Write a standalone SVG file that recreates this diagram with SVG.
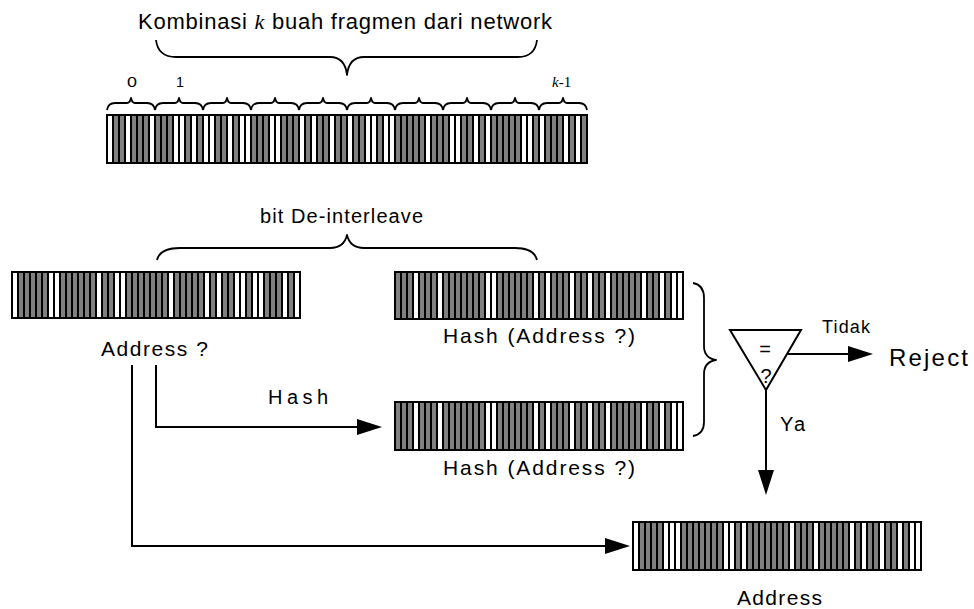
<svg xmlns="http://www.w3.org/2000/svg" xmlns:xlink="http://www.w3.org/1999/xlink" width="974" height="609" viewBox="0 0 974 609">
  <style>
    text { font-family: "Liberation Sans", Arial, sans-serif; fill: #000; }
    .it { font-family: "Liberation Serif", "Times New Roman", serif; font-style: italic; }
    .serif { font-family: "Liberation Serif", "Times New Roman", serif; }
    .bg { fill: #fff; }
    .gray { stroke: #808080; fill: none; }
    .sep { stroke: #000; fill: none; stroke-dasharray: 2 4; stroke-dashoffset: 1; }
    .frame { fill: none; stroke: #000; stroke-width: 2; }
    .brace { fill: none; stroke: #000; stroke-width: 1.8; stroke-linejoin: round; }
    .wire { fill: none; stroke: #000; stroke-width: 2; }
    .arrow { marker-end: url(#head); }
  </style>
  <defs>
    <marker id="head" markerUnits="userSpaceOnUse" markerWidth="25" markerHeight="16" refX="5" refY="8" orient="auto">
      <path d="M0,0 L25,8 L0,16 z" fill="#000"/>
    </marker>
    <!-- small upward brace spanning one 8-bit fragment -->
    <path id="fragBrace" class="brace" d="M0,12 Q1,5 8,5 L20,5 Q23,5 24,0 Q25,5 28,5 L40,5 Q47,5 48,12"/>
  </defs>

  <!-- fragments combined from the network -->
  <g id="fragments">
    <text x="138" y="29" font-size="22" textLength="414" lengthAdjust="spacing">Kombinasi <tspan class="it">k</tspan> buah fragmen dari network</text>
    <path class="brace" d="M156,40 Q158,57 176,57 L330,57 Q345,57 347,75 Q349,57 364,57 L518,57 Q535,57 537,40"/>
    <text x="127" y="87" font-size="14" textLength="10" lengthAdjust="spacingAndGlyphs">0</text>
    <text x="176" y="87" font-size="14" textLength="8" lengthAdjust="spacingAndGlyphs">1</text>
    <text x="552" y="87" font-size="15" class="serif"><tspan class="it">k</tspan>-1</text>
    <g transform="translate(107,98)">
      <use xlink:href="#fragBrace" x="0"/>
      <use xlink:href="#fragBrace" x="48"/>
      <use xlink:href="#fragBrace" x="96"/>
      <use xlink:href="#fragBrace" x="144"/>
      <use xlink:href="#fragBrace" x="192"/>
      <use xlink:href="#fragBrace" x="240"/>
      <use xlink:href="#fragBrace" x="288"/>
      <use xlink:href="#fragBrace" x="336"/>
      <use xlink:href="#fragBrace" x="384"/>
      <use xlink:href="#fragBrace" x="432"/>
    </g>
    <g transform="translate(107,115)">
      <rect class="bg" width="480" height="48"/>
      <line class="gray" x1="0" y1="24" x2="480" y2="24" stroke-width="48" stroke-dasharray="0 6 12 6 18 6 18 12 6 6 6 12 12 6 6 12 18 12 18 6 6 6 12 6 12 6 12 12 6 12 30 6 18 12 12 6 6 6 30 12 6 6 18 6 6 6 6 6"/>
      <line class="sep" x1="0" y1="24" x2="480" y2="24" stroke-width="48"/>
      <rect class="frame" width="480" height="48"/>
    </g>
  </g>

  <!-- de-interleave split -->
  <g id="deinterleave">
    <text x="260" y="223" font-size="20" textLength="163" lengthAdjust="spacing">bit De-interleave</text>
    <path class="brace" d="M157,260 Q160,248 180,248 L330,248 Q344,248 347,235 Q350,248 364,248 L515,248 Q534,248 537,260"/>
  </g>

  <!-- candidate address -->
  <g id="address-candidate">
    <g transform="translate(12,272)">
      <rect class="bg" width="288" height="46"/>
      <line class="gray" x1="0" y1="23" x2="288" y2="23" stroke-width="46" stroke-dasharray="0 6 30 12 36 6 12 12 42 6 30 6 6 6 12 12 6 12 18 6 6 6"/>
      <line class="sep" x1="0" y1="23" x2="288" y2="23" stroke-width="46"/>
      <rect class="frame" width="288" height="46"/>
    </g>
    <text x="101" y="356" font-size="21" textLength="107" lengthAdjust="spacing">Address ?</text>
  </g>

  <!-- received hash -->
  <g id="hash-received">
    <g transform="translate(395,272)">
      <rect class="bg" width="288" height="47"/>
      <line class="gray" x1="0" y1="23.5" x2="288" y2="23.5" stroke-width="47" stroke-dasharray="18 6 18 6 42 12 36 6 6 6 18 6 12 6 12 6 30 6 12 6 6 12"/>
      <line class="sep" x1="0" y1="23.5" x2="288" y2="23.5" stroke-width="47"/>
      <rect class="frame" width="288" height="47"/>
    </g>
    <text x="443" y="343" font-size="21" textLength="192" lengthAdjust="spacing">Hash (Address ?)</text>
  </g>

  <!-- recomputed hash -->
  <g id="hash-computed">
    <g transform="translate(395,402)">
      <rect class="bg" width="288" height="48"/>
      <line class="gray" x1="0" y1="24" x2="288" y2="24" stroke-width="48" stroke-dasharray="18 6 18 6 42 12 36 6 6 6 18 6 12 6 12 6 30 6 12 6 6 12"/>
      <line class="sep" x1="0" y1="24" x2="288" y2="24" stroke-width="48"/>
      <rect class="frame" width="288" height="48"/>
    </g>
    <text x="443" y="475" font-size="21" textLength="192" lengthAdjust="spacing">Hash (Address ?)</text>
  </g>

  <!-- pairing brace into the comparator -->
  <g id="pair-brace">
    <path class="brace" d="M693,283 Q704,285 704,298 L704,346 Q704,358 716,360 Q704,362 704,374 L704,422 Q704,434 693,436"/>
  </g>

  <!-- equality test -->
  <g id="compare">
    <polygon points="730,330 801,330 766,390" fill="#fff" stroke="#000" stroke-width="2" stroke-linejoin="miter"/>
    <text x="765" y="356" font-size="20" text-anchor="middle">=</text>
    <text x="766" y="383" font-size="20" text-anchor="middle">?</text>
  </g>

  <g id="reject">
    <text x="889" y="366" font-size="24" textLength="79" lengthAdjust="spacing">Reject</text>
  </g>

  <!-- accepted address -->
  <g id="address">
    <g transform="translate(633,522)">
      <rect class="bg" width="288" height="48"/>
      <line class="gray" x1="0" y1="24" x2="288" y2="24" stroke-width="48" stroke-dasharray="0 6 24 18 42 12 6 6 42 6 18 6 30 6 6 6 12 6 12 6 6 12"/>
      <line class="sep" x1="0" y1="24" x2="288" y2="24" stroke-width="48"/>
      <rect class="frame" width="288" height="48"/>
    </g>
    <text x="737" y="605" font-size="21" textLength="85" lengthAdjust="spacing">Address</text>
  </g>

  <!-- connectors -->
  <g id="connectors">
    <path class="wire arrow" d="M156,365 V427 H362"/>
    <text x="268" y="404" font-size="20" textLength="60" lengthAdjust="spacing">Hash</text>
    <path class="wire arrow" d="M132,365 V546 H610"/>
    <path class="wire arrow" d="M788,354 H853"/>
    <text x="822" y="333" font-size="18" textLength="48" lengthAdjust="spacing">Tidak</text>
    <path class="wire arrow" d="M766,390 V475"/>
    <text x="780" y="431" font-size="20" textLength="25" lengthAdjust="spacing">Ya</text>
  </g>
</svg>
